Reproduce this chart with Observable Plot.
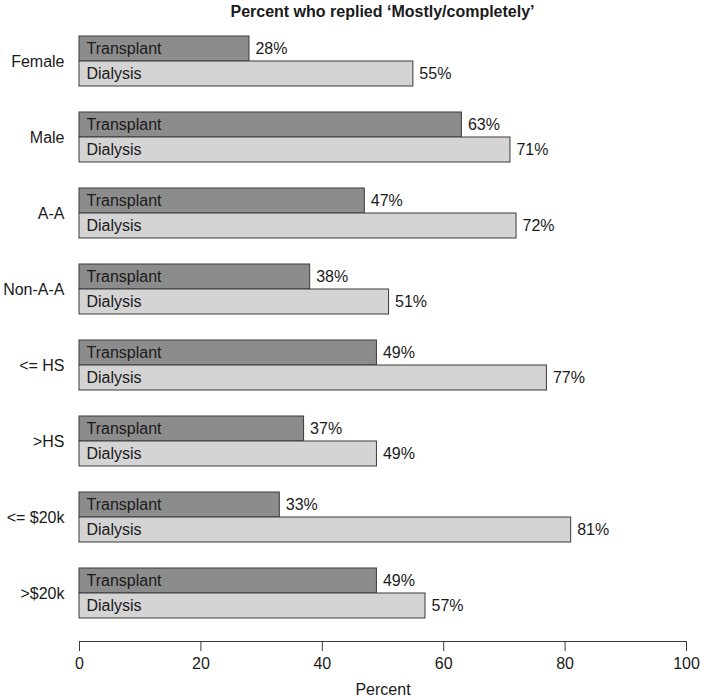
<!DOCTYPE html>
<html><head><meta charset="utf-8">
<script src="https://cdn.jsdelivr.net/npm/d3@7"></script>
<script src="https://cdn.jsdelivr.net/npm/@observablehq/plot@0.6"></script>
<style>
body{margin:0;background:#fff;font-family:"Liberation Sans",Arial,Helvetica,sans-serif;}
#title{margin-left:79px;width:607px;height:24px;line-height:24px;text-align:center;font-weight:bold;font-size:16px;color:#1a1a1a;}
</style>
</head><body>
<div id="title"></div>
<div id="chart"></div>
<script>
const title = "Percent who replied \u2018Mostly/completely\u2019";
const groups = ["Female", "Male", "A-A", "Non-A-A", "<= HS", ">HS", "<= $20k", ">$20k"];
const series = ["Transplant", "Dialysis"];
const transplant = [28, 63, 47, 38, 49, 37, 33, 49];
const dialysis = [55, 71, 72, 51, 77, 49, 81, 57];
const xTicks = [0, 20, 40, 60, 80, 100];
const xLabel = "Percent";
const seriesColors = ["#8c8c8c", "#d4d4d4"];

document.getElementById("title").textContent = title;

const data = groups.flatMap((g, i) => [
  {group: g, series: "Transplant", value: transplant[i]},
  {group: g, series: "Dialysis", value: dialysis[i]}
]);

const plot = Plot.plot({
  width: 701, height: 674,
  marginTop: 12, marginBottom: 80, marginLeft: 79, marginRight: 15,
  style: {fontFamily: "'Liberation Sans', Arial, Helvetica, sans-serif", fontSize: "16px", color: "#1a1a1a", background: "#fff"},
  x: {domain: [0, 100]},
  fy: {domain: groups, paddingInner: 26 / 76, paddingOuter: 0, label: null},
  y: {domain: series, padding: 0, axis: null},
  color: {domain: series, range: seriesColors},
  marks: [
    Plot.barX(data, {fy: "group", y: "series", x: "value", fill: "series", stroke: "#3a3a3a", strokeWidth: 1}),
    Plot.text(data, {fy: "group", y: "series", x: 0, text: "series", textAnchor: "start", dx: 7, fill: "#1a1a1a"}),
    Plot.text(data, {fy: "group", y: "series", x: "value", text: d => d.value + "%", textAnchor: "start", dx: 6, fill: "#1a1a1a"}),
    Plot.axisFy({anchor: "left", tickSize: 0, tickPadding: 15, label: null}),
    Plot.axisX({ticks: xTicks, tickSize: 10, tickPadding: 6, dy: 23, stroke: "#3a3a3a", label: null}),
    Plot.frame({anchor: "bottom", facetAnchor: "bottom", dy: 23, stroke: "#3a3a3a"}),
    Plot.text([xLabel], {text: d => d, frameAnchor: "bottom", facetAnchor: "bottom", dy: 71, lineAnchor: "middle", fill: "#1a1a1a"})
  ]
});
document.getElementById("chart").appendChild(plot);
</script>
</body></html>
